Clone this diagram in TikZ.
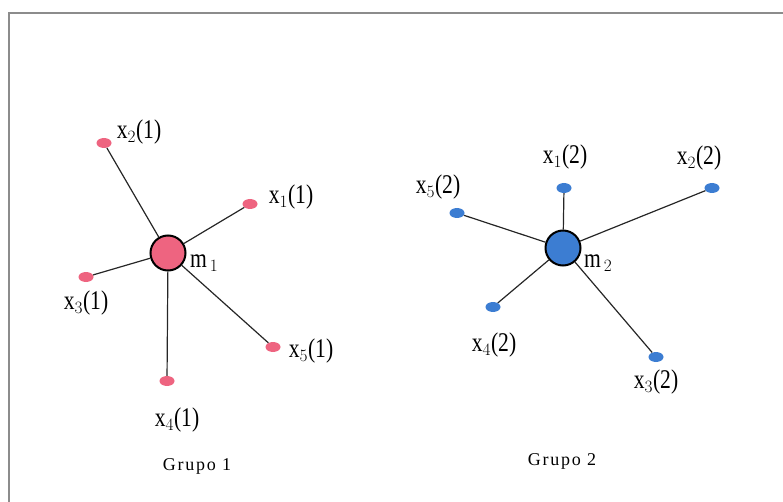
\documentclass[tikz,border=0pt]{standalone}
\usetikzlibrary{shapes.geometric}
\usepackage{fontspec}
\setmainfont{Liberation Serif}
\newfontfamily\grupofont[LetterSpace=10]{Liberation Serif}
\newfontfamily\lblfont[FakeStretch=0.8]{Liberation Serif}
\definecolor{pinkc}{RGB}{238,100,128}
\definecolor{bluec}{RGB}{60,125,210}
\definecolor{framec}{RGB}{140,140,140}
\begin{document}
\begin{tikzpicture}[x=1pt,y=-1pt,
  hub/.style={circle,draw=black,line width=2pt,minimum size=35pt,inner sep=0pt},
  leaf/.style={ellipse,minimum width=15pt,minimum height=10pt,inner sep=0pt},
  lbl/.style={font=\fontsize{27}{29}\lblfont,inner sep=1pt},
  grp/.style={font=\fontsize{18}{20}\grupofont,inner sep=1pt},
  edge/.style={draw=black!85,line width=1.2pt}]
\useasboundingbox (0,0) rectangle (783,502);
\draw[framec,line width=2pt] (9,502) -- (9,13) -- (783,13);
% Group 1
\node[hub,fill=pinkc] (m1) at (168,253) {};
\node[leaf,fill=pinkc] (a2) at (104,143) {};
\node[leaf,fill=pinkc] (a1) at (250,204) {};
\node[leaf,fill=pinkc] (a3) at (86,277) {};
\node[leaf,fill=pinkc] (a5) at (273,347) {};
\node[leaf,fill=pinkc] (a4) at (167,381) {};
\foreach \n in {a1,a2,a3,a4,a5} \draw[edge] (m1) -- (\n);
\node[lbl] (l2) at (139,132) {x$_2$(1)};
\node[lbl] (l1) at (291,197) {x$_1$(1)};
\node[lbl] (l3) at (86,303) {x$_3$(1)};
\node[lbl] (l5) at (311,351) {x$_5$(1)};
\node[lbl] (l4) at (177,420) {x$_4$(1)};
\node[lbl,anchor=west] (lm1) at (189,263) {m$_{\,1}$};
\node[grp] (g1) at (197,466) {Grupo 1};
% Group 2
\node[hub,fill=bluec] (m2) at (563,248) {};
\node[leaf,fill=bluec] (b1) at (564,188) {};
\node[leaf,fill=bluec] (b2) at (712,188) {};
\node[leaf,fill=bluec] (b5) at (457,213) {};
\node[leaf,fill=bluec] (b4) at (493,307) {};
\node[leaf,fill=bluec] (b3) at (656,357) {};
\foreach \n in {b1,b2,b3,b4,b5} \draw[edge] (m2) -- (\n);
\node[lbl] (k1) at (565,157) {x$_1$(2)};
\node[lbl] (k2) at (699,158) {x$_2$(2)};
\node[lbl] (k5) at (438,187) {x$_5$(2)};
\node[lbl] (k4) at (494,345) {x$_4$(2)};
\node[lbl] (k3) at (656,382) {x$_3$(2)};
\node[lbl,anchor=west] (lm2) at (583,263) {m$_{\,2}$};
\node[grp] (g2) at (562,461) {Grupo 2};
\end{tikzpicture}
\end{document}
